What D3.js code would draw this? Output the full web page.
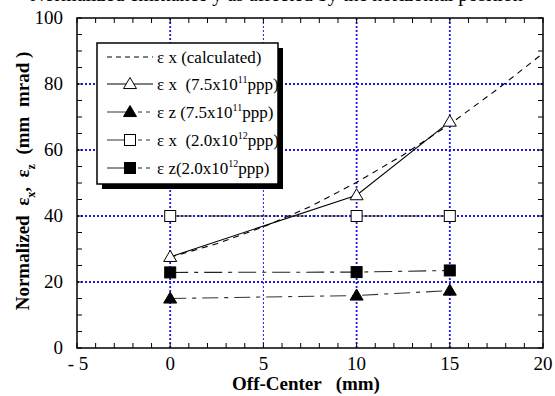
<!DOCTYPE html>
<html><head><meta charset="utf-8">
<script src="https://cdn.jsdelivr.net/npm/d3@7"></script>
<style>body{margin:0;background:#fff}svg{display:block}text{white-space:pre}</style>
</head><body>
<script>
// ---- data ----
const xTicks = [-5, 0, 5, 10, 15, 20];
const xTickLabels = ["- 5", "0", "5", "10", "15", "20"];
const yTicks = [0, 20, 40, 60, 80, 100];
const xGrid = [0, 5, 10, 15];
const yGrid = [20, 40, 60, 80];

const calcX = [0, 2.5, 5, 7.5, 10, 12.5, 15, 17.5, 20];
const calcY = [27.5, 31.6, 36.7, 42.8, 50.2, 58.5, 67.8, 78.2, 89.3];

const measX = [0, 10, 15];
const ex75 = [27.6, 46.3, 68.6];
const ez75 = [15.0, 15.9, 17.4];
const ex20 = [40.0, 40.0, 40.0];
const ez20 = [22.9, 23.0, 23.5];

const legendLabels = [
  ["ε x (calculated)", null, ""],
  ["ε x  (7.5x10", "11", "ppp)"],
  ["ε z (7.5x10", "11", "ppp)"],
  ["ε x  (2.0x10", "12", "ppp)"],
  ["ε z(2.0x10", "12", "ppp)"]
];

// ---- layout ----
const W = 555, H = 396;
const svg = d3.select("body").append("svg").attr("width", W).attr("height", H);
const x = d3.scaleLinear().domain([-5, 20]).range([77, 543]);
const y = d3.scaleLinear().domain([0, 100]).range([348, 18]);
const serif = "'Liberation Serif','Times New Roman',serif";

// title line, mostly above the visible area as in the reference
svg.append("text").attr("x", 30).attr("y", 1).attr("font-family", serif).attr("font-size", 20)
  .text("Normalized emittance y as affected by the horizontal position");

// grid
svg.append("g").selectAll("line").data(xGrid).join("line")
  .attr("x1", d => x(d)).attr("x2", d => x(d)).attr("y1", y(0)).attr("y2", y(100))
  .attr("stroke", "#1a1ae0").attr("stroke-width", d => d === 5 ? 1 : 1.8).attr("stroke-dasharray", "2,2");
svg.append("g").selectAll("line").data(yGrid).join("line")
  .attr("y1", d => y(d)).attr("y2", d => y(d)).attr("x1", x(-5)).attr("x2", x(20))
  .attr("stroke", "#1a1ae0").attr("stroke-width", 1.8).attr("stroke-dasharray", "2,2");

// ticks inside on all four sides
const xMinor = d3.range(-5, 20.001, 1);
const yMinor = d3.range(0, 100.001, 5);
const tg = svg.append("g").attr("stroke", "#000").attr("stroke-width", 1);
xMinor.forEach(v => {
  tg.append("line").attr("x1", x(v)).attr("x2", x(v)).attr("y1", y(0)).attr("y2", y(0) - 5);
  tg.append("line").attr("x1", x(v)).attr("x2", x(v)).attr("y1", y(100)).attr("y2", y(100) + 5);
});
yMinor.forEach(v => {
  tg.append("line").attr("y1", y(v)).attr("y2", y(v)).attr("x1", x(-5)).attr("x2", x(-5) + 5);
  tg.append("line").attr("y1", y(v)).attr("y2", y(v)).attr("x1", x(20)).attr("x2", x(20) - 5);
});

// frame
svg.append("rect").attr("x", x(-5)).attr("y", y(100)).attr("width", x(20) - x(-5)).attr("height", y(0) - y(100))
  .attr("fill", "none").attr("stroke", "#000").attr("stroke-width", 1.5);

// tick labels
svg.append("g").selectAll("text").data(yTicks).join("text")
  .attr("x", 63).attr("y", d => y(d) + 6).attr("text-anchor", "end")
  .attr("font-family", serif).attr("font-size", 19).text(d => d);
svg.append("g").selectAll("text").data(xTicks).join("text")
  .attr("x", (d, i) => i === 0 ? x(d) + 1 : x(d)).attr("y", 370).attr("text-anchor", "middle")
  .attr("font-family", serif).attr("font-size", 19).text((d, i) => xTickLabels[i]);

// axis titles
svg.append("text").attr("x", 306).attr("y", 390).attr("text-anchor", "middle")
  .attr("font-family", serif).attr("font-size", 19).attr("font-weight", "bold").text("Off-Center   (mm)");
const yl = svg.append("text").attr("transform", "translate(29,181) rotate(-90)").attr("text-anchor", "middle")
  .attr("font-family", serif).attr("font-size", 19).attr("font-weight", "bold");
yl.append("tspan").text("Normalized  ε");
yl.append("tspan").attr("font-size", 12).attr("dy", 6).text("x");
yl.append("tspan").attr("dy", -6).text(",  ε");
yl.append("tspan").attr("font-size", 12).attr("dy", 6).text("z");
yl.append("tspan").attr("dy", -6).text("  (mm  mrad )");

// series
const line = d3.line().x(d => x(d[0])).y(d => y(d[1]));
const zip = (xs, ys) => xs.map((v, i) => [v, ys[i]]);
const series = [
  {pts: zip(calcX, calcY), dash: "6,5", color: "#000", marker: null},
  {pts: zip(measX, ex75), dash: null, color: "#000", marker: "triOpen"},
  {pts: zip(measX, ez75), dash: "16,6,4,6", color: "#333", marker: "triFill"},
  {pts: zip(measX, ex20), dash: "22,6,4,6", color: "#333", marker: "sqOpen"},
  {pts: zip(measX, ez20), dash: "18,6,4,6", color: "#222", marker: "sqFill"}
];

function drawMarker(g, type, cx, cy) {
  if (type === "triOpen" || type === "triFill") {
    const s = 6.5;
    g.append("path").attr("d", `M${cx},${cy - s}L${cx + s},${cy + s * 0.7}L${cx - s},${cy + s * 0.7}Z`)
      .attr("fill", type === "triFill" ? "#000" : "#fff").attr("stroke", "#000").attr("stroke-width", 1);
  } else if (type) {
    const s = 5.5;
    g.append("rect").attr("x", cx - s).attr("y", cy - s).attr("width", 2 * s).attr("height", 2 * s)
      .attr("fill", type === "sqFill" ? "#000" : "#fff").attr("stroke", "#000").attr("stroke-width", 1);
  }
}

const sg = svg.append("g");
series.forEach(s => {
  sg.append("path").attr("d", line(s.pts)).attr("fill", "none").attr("stroke", s.color)
    .attr("stroke-width", 1.1).attr("stroke-dasharray", s.dash);
});
series.forEach(s => { if (s.marker) s.pts.forEach(p => drawMarker(sg, s.marker, x(p[0]), y(p[1]))); });

// legend
const lg = svg.append("g");
lg.append("rect").attr("x", 102).attr("y", 48).attr("width", 181).attr("height", 141).attr("fill", "#000");
lg.append("rect").attr("x", 97).attr("y", 43).attr("width", 181).attr("height", 141)
  .attr("fill", "#fff").attr("stroke", "#000").attr("stroke-width", 1.5);
const rowY = [57, 84, 112, 140, 168];
series.forEach((s, i) => {
  const ry = rowY[i];
  if (s.marker) {
    lg.append("line").attr("x1", 107).attr("x2", 130).attr("y1", ry).attr("y2", ry).attr("stroke", s.color);
    lg.append("line").attr("x1", 130).attr("x2", 153).attr("y1", ry).attr("y2", ry).attr("stroke", s.color)
      .attr("stroke-dasharray", i === 1 ? null : "4,4");
    drawMarker(lg, s.marker, 130, ry);
  } else {
    lg.append("line").attr("x1", 107).attr("x2", 153).attr("y1", ry).attr("y2", ry).attr("stroke", "#000")
      .attr("stroke-dasharray", "5,4");
  }
  const t = lg.append("text").attr("x", 157).attr("y", ry + 6).attr("font-family", serif).attr("font-size", 17);
  const lab = legendLabels[i];
  t.append("tspan").text(lab[0]);
  if (lab[1]) {
    t.append("tspan").attr("font-size", 10).attr("dy", -7).text(lab[1]);
    t.append("tspan").attr("dy", 7).text(lab[2]);
  }
});
</script>
</body></html>
